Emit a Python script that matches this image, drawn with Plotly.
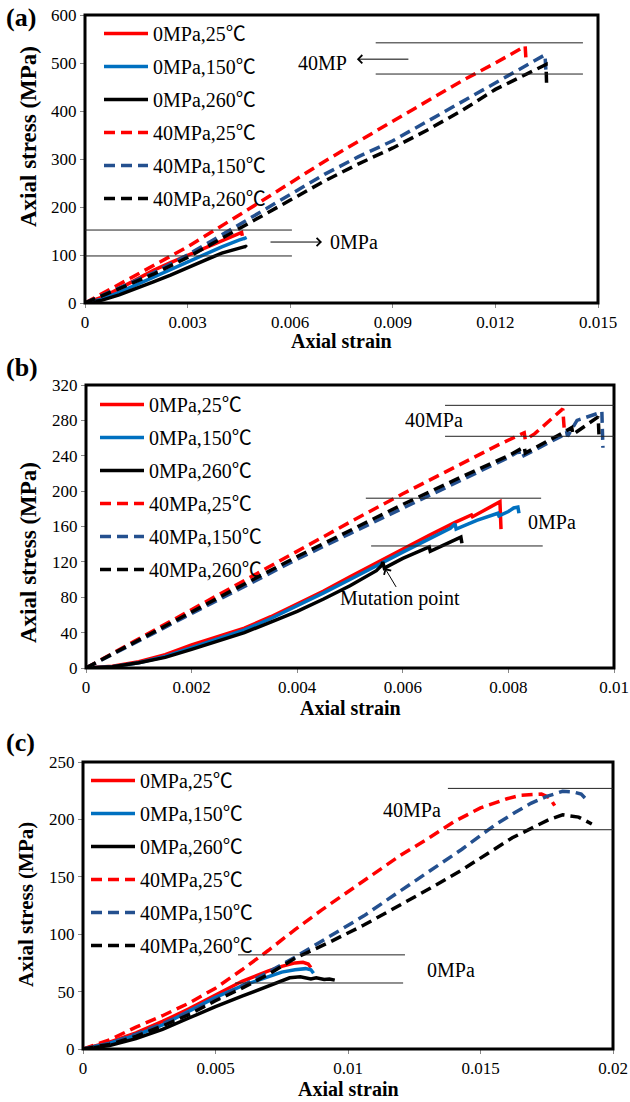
import plotly.graph_objects as go

# ---------------- data ----------------
LEGEND_NAMES = ["0MPa,25℃", "0MPa,150℃", "0MPa,260℃",
                "40MPa,25℃", "40MPa,150℃", "40MPa,260℃"]

# Panel (a)
a_s0_25_x = [0, 0.0005, 0.001, 0.0015, 0.002, 0.0025, 0.003, 0.0035, 0.004, 0.0045, 0.00458, 0.0046]
a_s0_25_y = [0, 12, 30, 50, 68, 84, 99, 114, 130, 145, 147, 140]
a_s0_150_x = [0, 0.0005, 0.001, 0.0015, 0.002, 0.0025, 0.003, 0.0035, 0.004, 0.0045, 0.00468, 0.0047]
a_s0_150_y = [0, 8, 22, 38, 54, 69, 85, 101, 117, 131, 135, 132]
a_s0_260_x = [0, 0.0005, 0.001, 0.0015, 0.002, 0.0025, 0.003, 0.0035, 0.004, 0.0045, 0.0047, 0.00473]
a_s0_260_y = [0, 6, 17, 30, 44, 58, 74, 89, 104, 114, 118, 116]
a_s40_25_x = [0, 0.001, 0.002, 0.003, 0.004, 0.005, 0.006, 0.007, 0.008, 0.009, 0.010, 0.011, 0.012, 0.0128, 0.01287, 0.0129]
a_s40_25_y = [0, 40, 78, 117, 160, 205, 250, 295, 337, 378, 420, 462, 500, 532, 535, 500]
a_s40_150_x = [0, 0.001, 0.002, 0.003, 0.004, 0.005, 0.006, 0.007, 0.008, 0.009, 0.010, 0.011, 0.012, 0.013, 0.01345, 0.01348]
a_s40_150_y = [0, 32, 63, 100, 142, 185, 228, 268, 305, 338, 378, 418, 458, 497, 517, 480]
a_s40_260_x = [0, 0.001, 0.002, 0.003, 0.004, 0.005, 0.006, 0.007, 0.008, 0.009, 0.010, 0.011, 0.012, 0.013, 0.01348, 0.0135]
a_s40_260_y = [0, 30, 60, 95, 135, 176, 216, 254, 290, 323, 360, 400, 445, 480, 497, 448]

# Panel (b)
b_s0_25_x = [0, 0.0005, 0.001, 0.0015, 0.002, 0.0025, 0.003, 0.0035, 0.004, 0.0045, 0.005, 0.0055, 0.006, 0.0065, 0.007, 0.0073, 0.00732, 0.0075, 0.0078, 0.00784, 0.00786]
b_s0_25_y = [0, 2, 7, 15, 26, 35, 45, 58, 72, 87, 103, 119, 135, 150, 165, 173, 171, 177, 187, 188, 157]
b_s0_150_x = [0, 0.0005, 0.001, 0.0015, 0.002, 0.0025, 0.003, 0.0035, 0.004, 0.0045, 0.005, 0.0055, 0.006, 0.0065, 0.0069, 0.00699, 0.00701, 0.0074, 0.0078, 0.00782, 0.008, 0.0081, 0.00818, 0.0082]
b_s0_150_y = [0, 1.5, 6, 13, 23, 33, 43, 56, 70, 85, 100, 116, 131, 146, 158, 163, 157, 167, 175, 172, 177, 181, 182, 175]
b_s0_260_x = [0, 0.0005, 0.001, 0.0015, 0.002, 0.0025, 0.003, 0.0035, 0.004, 0.0045, 0.005, 0.0055, 0.0056, 0.00562, 0.00565, 0.006, 0.0065, 0.00652, 0.0068, 0.007, 0.0071, 0.00712]
b_s0_260_y = [0, 1.5, 6, 12, 21, 30, 40, 52, 64, 78, 93, 110, 116, 120, 113, 124, 137, 132, 140, 146, 148, 141]
b_s40_25_x = [0, 0.001, 0.002, 0.003, 0.004, 0.005, 0.006, 0.007, 0.0078, 0.0083, 0.00832, 0.0085, 0.009, 0.00903, 0.00906, 0.0091]
b_s40_25_y = [0, 33, 67, 100, 132, 165, 197, 228, 252, 266, 258, 265, 292, 293, 268, 270]
b_s40_150_x = [0, 0.001, 0.002, 0.003, 0.004, 0.005, 0.006, 0.007, 0.008, 0.0082, 0.00822, 0.009, 0.0091, 0.00912, 0.0093, 0.0097, 0.00977, 0.00979]
b_s40_150_y = [0, 31, 62, 93, 123, 152, 181, 209, 238, 245, 238, 262, 268, 262, 280, 288, 290, 249]
b_s40_260_x = [0, 0.001, 0.002, 0.003, 0.004, 0.005, 0.006, 0.007, 0.008, 0.0083, 0.00832, 0.009, 0.0092, 0.00922, 0.0095, 0.0097, 0.00972]
b_s40_260_y = [0, 32, 64, 95, 126, 156, 185, 213, 240, 250, 243, 265, 272, 264, 275, 284, 258]

# Panel (c)
c_s0_25_x = [0, 0.001, 0.002, 0.003, 0.004, 0.005, 0.006, 0.007, 0.0075, 0.008, 0.0083, 0.0085, 0.0086]
c_s0_25_y = [0, 6, 14, 24, 35, 47, 59, 68, 72, 75, 75.5, 74, 71]
c_s0_150_x = [0, 0.001, 0.002, 0.003, 0.004, 0.005, 0.006, 0.007, 0.0075, 0.008, 0.0084, 0.0086, 0.0087]
c_s0_150_y = [0, 5, 12, 21, 33, 45, 55, 63, 67, 69, 70, 69, 66]
c_s0_260_x = [0, 0.001, 0.002, 0.003, 0.004, 0.005, 0.006, 0.007, 0.0078, 0.0082, 0.0086, 0.0088, 0.0091, 0.0093, 0.0095]
c_s0_260_y = [0, 3, 9, 17, 27, 37, 46, 55, 62, 63, 61, 62, 60.5, 61, 60]
c_s40_25_x = [0, 0.001, 0.002, 0.003, 0.004, 0.005, 0.006, 0.007, 0.008, 0.009, 0.010, 0.011, 0.012, 0.013, 0.014, 0.015, 0.016, 0.0165, 0.017, 0.0173, 0.0176, 0.0178]
c_s40_25_y = [0, 8, 19, 29, 40, 53, 69, 86, 104, 121, 137, 153, 169, 183, 198, 210, 218, 221, 222, 222, 219, 212]
c_s40_150_x = [0, 0.001, 0.002, 0.003, 0.004, 0.005, 0.006, 0.007, 0.008, 0.0093, 0.0106, 0.0118, 0.0131, 0.0143, 0.015, 0.0156, 0.0163, 0.0169, 0.0175, 0.0181, 0.0185, 0.0188, 0.0191]
c_s40_150_y = [0, 5, 13, 22, 32, 43, 55, 67, 80, 98, 116, 135, 155, 174, 186, 196, 206, 214, 220, 224.5, 224, 222, 215]
c_s40_260_x = [0, 0.001, 0.002, 0.003, 0.004, 0.005, 0.006, 0.007, 0.008, 0.0093, 0.0106, 0.0118, 0.0131, 0.0143, 0.0152, 0.0162, 0.0169, 0.0176, 0.0181, 0.0187, 0.0192]
c_s40_260_y = [0, 4, 11, 20, 30, 42, 53, 65, 79, 93, 108, 123, 140, 156, 169, 184, 192, 200, 204, 202, 196]

# Axis ticks
a_xticks = [0, 0.003, 0.006, 0.009, 0.012, 0.015]
a_xtext = ["0", "0.003", "0.006", "0.009", "0.012", "0.015"]
a_yticks = [0, 100, 200, 300, 400, 500, 600]
b_xticks = [0, 0.002, 0.004, 0.006, 0.008, 0.01]
b_xtext = ["0", "0.002", "0.004", "0.006", "0.008", "0.01"]
b_yticks = [0, 40, 80, 120, 160, 200, 240, 280, 320]
c_xticks = [0, 0.005, 0.01, 0.015, 0.02]
c_xtext = ["0", "0.005", "0.01", "0.015", "0.02"]
c_yticks = [0, 50, 100, 150, 200, 250]

# Guide lines (x0, x1, y) bracketing peak stresses
a_guides = [(0, 0.00605, 152), (0, 0.00605, 98), (0.0085, 0.01456, 542), (0.0085, 0.01456, 477)]
b_guides = [(0.0068, 0.0101, 297), (0.0068, 0.0101, 262), (0.0053, 0.00862, 192), (0.0054, 0.00865, 138)]
c_guides = [(0.00585, 0.01215, 82), (0.00574, 0.01208, 57.5), (0.01377, 0.0200, 227), (0.01373, 0.0200, 191)]

# ---------------- styling ----------------
SERIF = "Liberation Serif, 'Noto Sans CJK SC', serif"
RED = "#FF0000"
BLUE = "#0070C0"
NAVY = "#24508F"
BLACK = "#000000"
DASH = "11px,6px"
styles = [
    dict(color=RED, width=3.5, dash="solid"),
    dict(color=BLUE, width=3.5, dash="solid"),
    dict(color=BLACK, width=3.5, dash="solid"),
    dict(color=RED, width=3.5, dash=DASH),
    dict(color=NAVY, width=3.5, dash=DASH),
    dict(color=BLACK, width=3.5, dash=DASH),
]

W, H = 630, 1102


def px_x(p):
    return p / W


def px_y(p):
    return 1 - p / H


panels = [
    dict(key="", xd=(85, 598), yd=(15, 303), xr=[0, 0.015], yr=[0, 600],
         xt=a_xticks, xtt=a_xtext, yt=a_yticks, legend="legend",
         series=[(a_s0_25_x, a_s0_25_y), (a_s0_150_x, a_s0_150_y), (a_s0_260_x, a_s0_260_y),
                 (a_s40_25_x, a_s40_25_y), (a_s40_150_x, a_s40_150_y), (a_s40_260_x, a_s40_260_y)],
         guides=a_guides, label="(a)", label_y=18, leg_x=99, leg_y=14,
         xtitle_y=341, ytitle_x=28, ytitle_y=137, ytitle_size=23),
    dict(key="2", xd=(86, 614), yd=(385, 668), xr=[0, 0.01], yr=[0, 320],
         xt=b_xticks, xtt=b_xtext, yt=b_yticks, legend="legend2",
         series=[(b_s0_25_x, b_s0_25_y), (b_s0_150_x, b_s0_150_y), (b_s0_260_x, b_s0_260_y),
                 (b_s40_25_x, b_s40_25_y), (b_s40_150_x, b_s40_150_y), (b_s40_260_x, b_s40_260_y)],
         guides=b_guides, label="(b)", label_y=368, leg_x=95, leg_y=385,
         xtitle_y=708, ytitle_x=28, ytitle_y=553, ytitle_size=23),
    dict(key="3", xd=(83, 613), yd=(762, 1049), xr=[0, 0.02], yr=[0, 250],
         xt=c_xticks, xtt=c_xtext, yt=c_yticks, legend="legend3",
         series=[(c_s0_25_x, c_s0_25_y), (c_s0_150_x, c_s0_150_y), (c_s0_260_x, c_s0_260_y),
                 (c_s40_25_x, c_s40_25_y), (c_s40_150_x, c_s40_150_y), (c_s40_260_x, c_s40_260_y)],
         guides=c_guides, label="(c)", label_y=742, leg_x=86, leg_y=761,
         xtitle_y=1089, ytitle_x=26, ytitle_y=905, ytitle_size=21),
]

fig = go.Figure()
layout = dict(
    width=W, height=H, margin=dict(l=0, r=0, t=0, b=0, autoexpand=False),
    paper_bgcolor="white", plot_bgcolor="white",
    font=dict(family=SERIF, size=18, color="black"),
    shapes=[], annotations=[],
)

for p in panels:
    k = p["key"]
    xa, ya = "x" + k, "y" + k
    for i, (xs, ys) in enumerate(p["series"]):
        fig.add_trace(go.Scatter(
            x=xs, y=ys, mode="lines", name=LEGEND_NAMES[i], line=styles[i],
            xaxis=xa, yaxis=ya, legend=p["legend"], legendgroup=p["legend"] + str(i),
            hoverinfo="skip",
        ))
    layout["xaxis" + k] = dict(
        domain=[px_x(p["xd"][0]), px_x(p["xd"][1])], range=p["xr"], anchor=ya,
        tickvals=p["xt"], ticktext=p["xtt"], ticks="outside", ticklen=4,
        tickcolor="#888", showline=True, linecolor="#888", linewidth=1,
        showgrid=False, zeroline=False, tickfont=dict(size=17), automargin=False,
    )
    layout["yaxis" + k] = dict(
        domain=[px_y(p["yd"][1]), px_y(p["yd"][0])], range=p["yr"], anchor=xa,
        tickvals=p["yt"], ticks="outside", ticklen=4,
        tickcolor="#888", showline=True, linecolor="#888", linewidth=1,
        showgrid=False, zeroline=False, tickfont=dict(size=17), automargin=False,
    )
    layout[p["legend"]] = dict(
        x=px_x(p["leg_x"]), y=px_y(p["leg_y"]), xanchor="left", yanchor="top",
        bgcolor="rgba(0,0,0,0)", font=dict(size=20), tracegroupgap=4,
        itemwidth=44, traceorder="grouped",
    )
    # heavy frame
    layout["shapes"].append(dict(
        type="rect", xref="x" + k + " domain", yref="y" + k + " domain",
        x0=0, x1=1, y0=0, y1=1, line=dict(color="black", width=3),
    ))
    for x0, x1, yv in p["guides"]:
        layout["shapes"].append(dict(
            type="line", xref=xa, yref=ya, x0=x0, x1=x1, y0=yv, y1=yv,
            line=dict(color="#222", width=1),
        ))
    # panel tag and axis titles
    layout["annotations"] += [
        dict(text="<b>" + p["label"] + "</b>", xref="paper", yref="paper",
             x=px_x(4), y=px_y(p["label_y"]), xanchor="left", yanchor="middle",
             showarrow=False, font=dict(size=26)),
        dict(text="<b>Axial strain</b>", xref="paper", yref="paper",
             x=px_x((p["xd"][0] + p["xd"][1]) / 2), y=px_y(p["xtitle_y"]),
             xanchor="center", yanchor="middle", showarrow=False, font=dict(size=20)),
        dict(text="<b>Axial stress (MPa)</b>", xref="paper", yref="paper",
             x=px_x(p["ytitle_x"]), y=px_y(p["ytitle_y"]), textangle=-90,
             xanchor="center", yanchor="middle", showarrow=False,
             font=dict(size=p["ytitle_size"])),
    ]

# Text labels and arrows
ann = layout["annotations"]
ann += [
    dict(text="0MPa", xref="x", yref="y", x=0.00787, y=127, showarrow=False, font=dict(size=20)),
    dict(text="", xref="x", yref="y", axref="x", ayref="y", x=0.00693, y=127, ax=0.00538, ay=127,
         showarrow=True, arrowhead=4, arrowsize=1.6, arrowwidth=1, arrowcolor="black"),
    dict(text="40MP", xref="x", yref="y", x=0.00693, y=500, showarrow=False, font=dict(size=20)),
    dict(text="", xref="x", yref="y", axref="x", ayref="y", x=0.00795, y=508, ax=0.0095, ay=508,
         showarrow=True, arrowhead=4, arrowsize=1.6, arrowwidth=1, arrowcolor="black"),
    dict(text="40MPa", xref="x2", yref="y2", x=0.0066, y=280, showarrow=False, font=dict(size=20)),
    dict(text="0MPa", xref="x2", yref="y2", x=0.00882, y=165, showarrow=False, font=dict(size=20)),
    dict(text="Mutation point", xref="x2", yref="y2", x=0.00595, y=79, showarrow=False, font=dict(size=20)),
    dict(text="", xref="x2", yref="y2", axref="x2", ayref="y2", x=0.00566, y=113, ax=0.00589, ay=90,
         showarrow=True, arrowhead=4, arrowsize=1.6, arrowwidth=1, arrowcolor="black"),
    dict(text="40MPa", xref="x3", yref="y3", x=0.0124, y=208, showarrow=False, font=dict(size=20)),
    dict(text="0MPa", xref="x3", yref="y3", x=0.0139, y=69, showarrow=False, font=dict(size=20)),
]

fig.update_layout(**layout)
fig.write_html("out.html")
